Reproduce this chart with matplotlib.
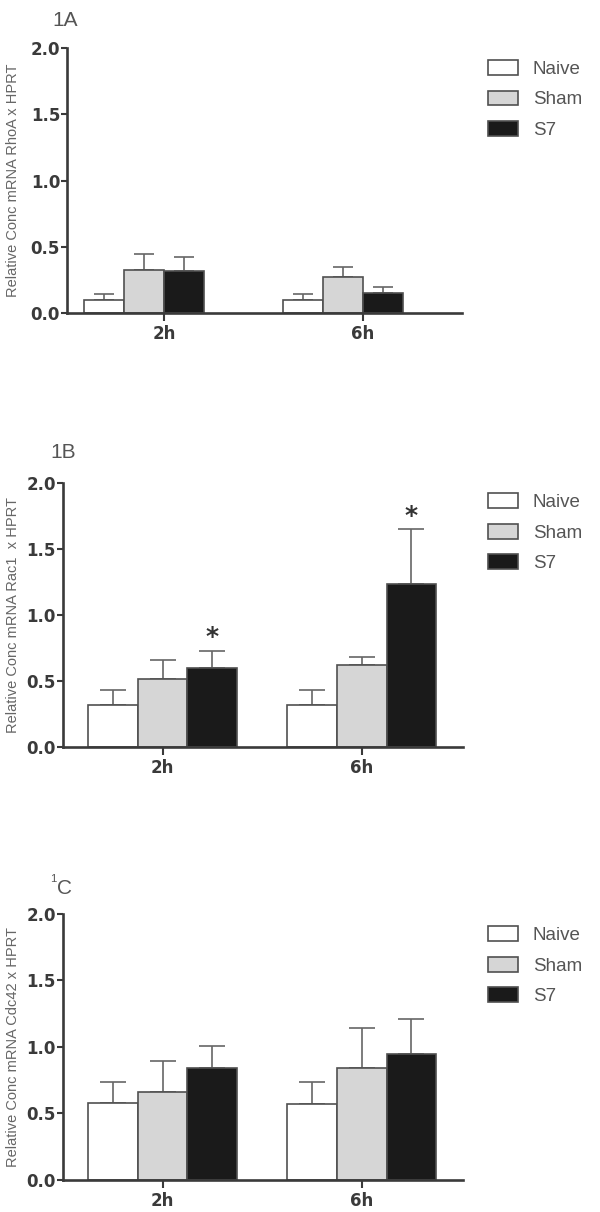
import matplotlib
matplotlib.use("Agg")
import matplotlib.pyplot as plt
import numpy as np

plt.rcParams['font.family'] = ['Liberation Sans', 'DejaVu Sans']

# values
times = ["2h", "6h"]
groups = ["Naive", "Sham", "S7"]

rhoa_mean = [[0.10, 0.10], [0.325, 0.275], [0.315, 0.155]]
rhoa_err = [[0.045, 0.045], [0.12, 0.075], [0.11, 0.04]]

rac1_mean = [[0.32, 0.32], [0.518, 0.62], [0.60, 1.237]]
rac1_err = [[0.114, 0.114], [0.142, 0.06], [0.125, 0.417]]
rac1_star = [None, None, [0.83, 1.75]]

cdc42_mean = [[0.578, 0.575], [0.66, 0.845], [0.845, 0.948]]
cdc42_err = [[0.162, 0.165], [0.235, 0.30], [0.162, 0.266]]

ylabels = ["Relative Conc mRNA RhoA x HPRT",
           "Relative Conc mRNA Rac1  x HPRT",
           "Relative Conc mRNA Cdc42 x HPRT"]

face = ["white", "#d6d6d6", "#1a1a1a"]
edge = "#505050"
axcol = "#3a3a3a"
tick_font = dict(family="DejaVu Sans", fontweight="bold", fontsize=12, color="#333333")

fig = plt.figure(figsize=(6, 12.12), dpi=100)

# rect, xlim, bar width, bar shift, capsize, legend anchor, ylabel x (axes coords)
panels = [
    ([0.1117, 0.7417, 0.658, 0.2186], (-0.487, 1.497), 0.20, -0.10, 7.0, (0.8133, 0.9505), -0.119),
    ([0.105, 0.3837, 0.667, 0.2178], (-0.50, 1.51), 0.25, 0.0, 9.5, (0.8133, 0.5932), -0.1075),
    ([0.105, 0.0264, 0.667, 0.2195], (-0.50, 1.51), 0.25, 0.0, 9.5, (0.8133, 0.2358), -0.1075),
]
means = [rhoa_mean, rac1_mean, cdc42_mean]
errs = [rhoa_err, rac1_err, cdc42_err]
stars = [None, rac1_star, None]

x = np.arange(len(times))
for p, (rect, xlim, w, shift, cap, leg_pos, ylx) in enumerate(panels):
    ax = fig.add_axes(rect)
    for g in range(len(groups)):
        xs = x + (g - 1) * w + shift
        ax.bar(xs, means[p][g], w, color=face[g], edgecolor=edge,
               linewidth=1.2, label=groups[g], zorder=2)
        ax.errorbar(xs, means[p][g], yerr=[np.zeros(len(times)), errs[p][g]],
                    fmt="none", ecolor="#666666", elinewidth=1.2,
                    capsize=cap, capthick=1.2, zorder=1)
        if stars[p] is not None and stars[p][g] is not None:
            for xi, yi in zip(xs, stars[p][g]):
                ax.text(xi, yi, "*", ha="center", va="center",
                        fontsize=18, fontweight="bold", color="#333333",
                        family="DejaVu Sans")

    ax.set_xlim(*xlim)
    ax.set_ylim(0, 2.0)
    ax.set_yticks([0, 0.5, 1.0, 1.5, 2.0])
    ax.set_yticklabels(["0.0", "0.5", "1.0", "1.5", "2.0"], **tick_font)
    ax.set_xticks(x)
    ax.set_xticklabels(times, **tick_font)
    ax.tick_params(axis="y", direction="out", length=4.5, width=1.5,
                   colors=axcol, pad=0.5)
    ax.tick_params(axis="x", direction="out", length=5.5, width=1.5,
                   colors=axcol, pad=3)
    for s in ["top", "right"]:
        ax.spines[s].set_visible(False)
    for s in ["left", "bottom"]:
        ax.spines[s].set_linewidth(1.9)
        ax.spines[s].set_color(axcol)
    ax.set_ylabel(ylabels[p], fontsize=10.5, color="#666666")
    ax.yaxis.set_label_coords(ylx, 0.5)

    leg = ax.legend(loc="upper left", bbox_to_anchor=leg_pos,
                    bbox_transform=fig.transFigure, frameon=False,
                    fontsize=13.5, handlelength=1.6, handleheight=0.85,
                    labelspacing=0.67, handletextpad=0.8,
                    borderpad=0, borderaxespad=0)
    for t in leg.get_texts():
        t.set_color("#555555")

# panel labels
fig.text(0.0867, 0.9909, "1A", fontsize=15, color="#555555", va="top")
fig.text(0.0833, 0.6345, "1B", fontsize=15, color="#555555", va="top")
fig.text(0.0833, 0.2790, "1", fontsize=8, color="#555555", va="top")
fig.text(0.0950, 0.2748, "C", fontsize=15, color="#555555", va="top")

fig.savefig("out.png", dpi=100)
